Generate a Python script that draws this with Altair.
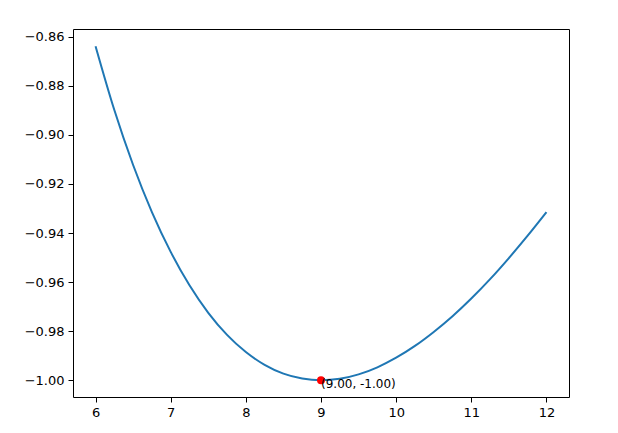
import altair as alt
import pandas as pd

x_vals = [6.0, 6.25, 6.5, 6.75, 7.0, 7.25, 7.5, 7.75, 8.0, 8.25, 8.5, 8.75, 9.0,
          9.25, 9.5, 9.75, 10.0, 10.25, 10.5, 10.75, 11.0, 11.25, 11.5, 11.75, 12.0]
y_vals = [-0.8639, -0.8899, -0.9123, -0.9315, -0.9477, -0.9613, -0.9725, -0.9815,
          -0.9885, -0.9937, -0.9973, -0.9993, -1.0000, -0.9994, -0.9976, -0.9947,
          -0.9908, -0.9860, -0.9803, -0.9739, -0.9667, -0.9588, -0.9502, -0.9411, -0.9315]
min_x = [9.0]
min_y = [-1.0]
min_label = ["(9.00, -1.00)"]
x_ticks = [6, 7, 8, 9, 10, 11, 12]
y_ticks = [-1.00, -0.98, -0.96, -0.94, -0.92, -0.90, -0.88, -0.86]

curve = pd.DataFrame({"x": x_vals, "y": y_vals})
pt = pd.DataFrame({"x": min_x, "y": min_y, "label": min_label})

xs = alt.Scale(domain=[5.7, 12.3], nice=False, zero=False)
ys = alt.Scale(domain=[-1.0068, -0.8569], nice=False, zero=False)

xax = alt.Axis(values=x_ticks, format="d", title=None, grid=False, tickSize=5,
               labelPadding=4, domain=False, tickColor="black", labelColor="black",
               labelFont="DejaVu Sans", labelFontSize=13)
yax = alt.Axis(values=y_ticks, format=".2f", title=None, grid=False, tickSize=5,
               labelPadding=4, domain=False, tickColor="black", labelColor="black",
               labelFont="DejaVu Sans", labelFontSize=13)

line = alt.Chart(curve).mark_line(color="#1f77b4", strokeWidth=2, interpolate="monotone").encode(
    x=alt.X("x:Q", scale=xs, axis=xax),
    y=alt.Y("y:Q", scale=ys, axis=yax),
)
dot = alt.Chart(pt).mark_circle(color="red", size=64, opacity=1).encode(
    x=alt.X("x:Q", scale=xs),
    y=alt.Y("y:Q", scale=ys),
)
txt = alt.Chart(pt).mark_text(align="left", baseline="top", font="DejaVu Sans",
                              fontSize=12, color="black", dy=-1).encode(
    x=alt.X("x:Q", scale=xs),
    y=alt.Y("y:Q", scale=ys),
    text="label:N",
)

chart = (line + dot + txt).properties(
    width=496, height=368,
    background="white",
    autosize=alt.AutoSizeParams(type="none"),
    padding={"left": 65, "top": 21, "right": 41, "bottom": 30},
).configure_view(stroke="black", strokeWidth=1)

chart.save("out.html", embed_options={"renderer": "svg", "actions": False})
